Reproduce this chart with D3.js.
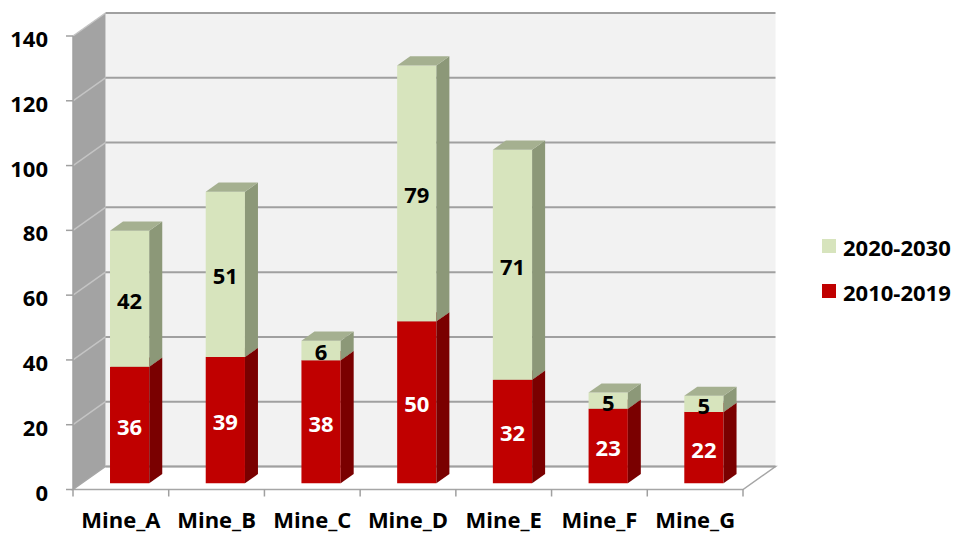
<!DOCTYPE html>
<html>
<head>
<meta charset="utf-8">
<script src="https://cdn.jsdelivr.net/npm/d3@7"></script>
<style>
  html, body { margin: 0; padding: 0; background: #ffffff; }
  svg { display: block; }
  text { font-family: "Open Sans", Lato, "Liberation Sans", sans-serif; font-weight: bold; }
</style>
</head>
<body>
<svg id="chart" width="959" height="536"></svg>
<script>
// Mine output by period
const categories = ["Mine_A", "Mine_B", "Mine_C", "Mine_D", "Mine_E", "Mine_F", "Mine_G"];
const period2010 = [36, 39, 38, 50, 32, 23, 22];
const period2020 = [42, 51, 6, 79, 71, 5, 5];
const seriesNames = ["2010-2019", "2020-2030"];
const yTicks = [0, 20, 40, 60, 80, 100, 120, 140];

const svg = d3.select("#chart");

// front plane of the 3-D box
const plotLeft = 73, plotRight = 743, plotBottom = 489.5, plotTop = 36;
// depth offset of the back wall
const DX = 32.5, DY = 23;
// bars sit partway into the box
const zFront = 0.27, zBack = 0.67;

const x = d3.scaleBand().domain(categories).range([plotLeft, plotRight]).paddingInner(0).paddingOuter(0);
const y = d3.scaleLinear().domain([0, 140]).range([plotBottom, plotTop]);
const barW = x.bandwidth() * 0.41;

// project a front-plane point to depth z (0 = front, 1 = back wall)
const P = (px, py, z) => [px + z * DX, py - z * DY];
const poly = pts => "M" + pts.map(p => p.join(",")).join("L") + "Z";

const colors = {
  "2010-2019": { front: "#c00000", side: "#7a0000", top: "#9a2020" },
  "2020-2030": { front: "#d7e4bd", side: "#8c9878", top: "#a5b090" }
};

const g = svg.append("g");

// back wall
g.append("path")
  .attr("d", poly([P(plotLeft, y(0), 1), P(plotRight, y(0), 1), P(plotRight, y(140), 1), P(plotLeft, y(140), 1)]))
  .attr("fill", "#f2f2f2");

// side wall
g.append("path")
  .attr("d", poly([P(plotLeft, y(0), 0), P(plotLeft, y(0), 1), P(plotLeft, y(140), 1), P(plotLeft, y(140), 0)]))
  .attr("fill", "#a3a3a3");

// floor
g.append("path")
  .attr("d", poly([P(plotLeft, y(0), 0), P(plotRight, y(0), 0), P(plotRight, y(0), 1), P(plotLeft, y(0), 1)]))
  .attr("fill", "#ffffff")
  .attr("stroke", "#a6a6a6")
  .attr("stroke-width", 1.5);

// gridlines on the side wall
g.selectAll("line.sidegrid").data(yTicks.filter(t => t > 0)).enter().append("line")
  .attr("class", "sidegrid")
  .attr("x1", plotLeft).attr("y1", t => y(t))
  .attr("x2", plotLeft + DX).attr("y2", t => y(t) - DY)
  .attr("stroke", "#c4c4c4").attr("stroke-width", 1.5);

// gridlines on the back wall
g.selectAll("line.grid").data(yTicks).enter().append("line")
  .attr("class", "grid")
  .attr("x1", plotLeft + DX).attr("x2", plotRight + DX)
  .attr("y1", t => y(t) - DY).attr("y2", t => y(t) - DY)
  .attr("stroke", "#a0a0a0").attr("stroke-width", 2);

// y axis (front-left edge) with ticks
g.append("line")
  .attr("x1", plotLeft).attr("x2", plotLeft).attr("y1", y(140)).attr("y2", y(0))
  .attr("stroke", "#a0a0a0").attr("stroke-width", 1.5);
g.selectAll("line.ytick").data(yTicks).enter().append("line")
  .attr("class", "ytick")
  .attr("x1", plotLeft - 7).attr("x2", plotLeft)
  .attr("y1", t => y(t)).attr("y2", t => y(t))
  .attr("stroke", "#a0a0a0").attr("stroke-width", 1.5);
g.selectAll("text.ylab").data(yTicks).enter().append("text")
  .attr("class", "ylab")
  .attr("x", plotLeft - 25).attr("y", t => y(t) + 2)
  .attr("text-anchor", "end").attr("dominant-baseline", "central")
  .attr("font-size", 22).attr("fill", "#000")
  .text(t => t);

// x axis ticks at category boundaries
const bounds = categories.map(c => x(c)).concat([plotRight]);
g.selectAll("line.xtick").data(bounds).enter().append("line")
  .attr("class", "xtick")
  .attr("x1", d => d).attr("x2", d => d)
  .attr("y1", y(0)).attr("y2", y(0) + 7)
  .attr("stroke", "#a0a0a0").attr("stroke-width", 1.5);
g.selectAll("text.xlab").data(categories).enter().append("text")
  .attr("class", "xlab")
  .attr("x", c => x(c) + x.bandwidth() / 2).attr("y", 528)
  .attr("text-anchor", "middle")
  .attr("font-size", 22).attr("fill", "#000")
  .text(c => c);

// stacked 3-D bars
const stackData = categories.map((c, i) => ({ cat: c, "2010-2019": period2010[i], "2020-2030": period2020[i] }));
const stacked = d3.stack().keys(seriesNames)(stackData);

const bars = g.append("g");
categories.forEach((c, i) => {
  const x0 = x(c) + (x.bandwidth() - barW) / 2;
  const x1 = x0 + barW;
  stacked.forEach(layer => {
    const col = colors[layer.key];
    const [v0, v1] = layer[i];
    const yb = y(v0), yt = y(v1);
    // front face
    bars.append("path")
      .attr("d", poly([P(x0, yb, zFront), P(x1, yb, zFront), P(x1, yt, zFront), P(x0, yt, zFront)]))
      .attr("fill", col.front);
    // right side face
    bars.append("path")
      .attr("d", poly([P(x1, yb, zFront), P(x1, yb, zBack), P(x1, yt, zBack), P(x1, yt, zFront)]))
      .attr("fill", col.side);
    // top face
    bars.append("path")
      .attr("d", poly([P(x0, yt, zFront), P(x1, yt, zFront), P(x1, yt, zBack), P(x0, yt, zBack)]))
      .attr("fill", col.top);
  });
});

// value labels on the front faces
categories.forEach((c, i) => {
  const cx = x(c) + x.bandwidth() / 2 + zFront * DX;
  stacked.forEach(layer => {
    const [v0, v1] = layer[i];
    const cy = (y(v0) + y(v1)) / 2 - zFront * DY;
    bars.append("text")
      .attr("x", cx).attr("y", cy + 1)
      .attr("text-anchor", "middle").attr("dominant-baseline", "central")
      .attr("font-size", 22)
      .attr("fill", layer.key === "2010-2019" ? "#ffffff" : "#000000")
      .text(v1 - v0);
  });
});

// legend
const legendItems = ["2020-2030", "2010-2019"];
const legend = svg.append("g");
legendItems.forEach((name, k) => {
  const ly = 246 + k * 45;
  legend.append("rect")
    .attr("x", 822).attr("y", ly - 7).attr("width", 14).attr("height", 14)
    .attr("fill", colors[name].front);
  legend.append("text")
    .attr("x", 843).attr("y", ly + 1)
    .attr("dominant-baseline", "central")
    .attr("font-size", 22).attr("fill", "#000")
    .text(name);
});
</script>
</body>
</html>
